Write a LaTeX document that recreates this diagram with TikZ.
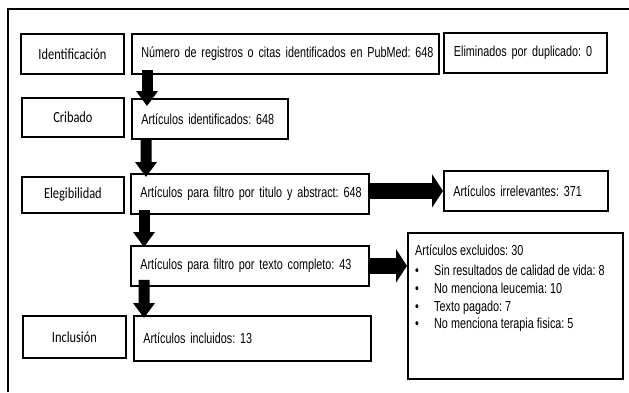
\documentclass[tikz,border=0pt]{standalone}
\usepackage{fontspec}
\setmainfont{Liberation Sans}[FakeStretch=0.745]
\newfontfamily\stagefont{Carlito}[FakeStretch=0.8]
\usetikzlibrary{arrows.meta}

\tikzset{
  boxline/.style={draw=black, line width=1.8bp, fill=white},
  stage/.style={boxline, anchor=north west, inner sep=0pt,
    font=\stagefont\fontsize{15.5bp}{18bp}\selectfont},
  info/.style 2 args={boxline, anchor=north west, inner xsep=9.5bp, inner ysep=0pt,
    text width=#1, minimum height=#2, align=left,
    font=\fontsize{14.5bp}{17bp}\selectfont},
  downarrow/.style={line width=11bp, -{Triangle[width=21bp,length=15bp]}},
  sidearrow/.style={line width=16bp, -{Triangle[width=33bp,length=11bp]}},
}

\begin{document}
\frenchspacing
\begin{tikzpicture}[x=1bp, y=-1bp]
  \useasboundingbox (0,0) rectangle (629,392);

  % outer frame (continues past the right and bottom edges)
  \draw[line width=1.3bp] (8,392) -- (8,9) -- (629,9);

  % stage labels
  \node[stage, minimum width=103bp, minimum height=40bp] (lid) at (20,33) {Identificación};
  \node[stage, minimum width=102bp, minimum height=39bp] (lcr) at (21,97) {Cribado};
  \node[stage, minimum width=102bp, minimum height=36bp] (lel) at (21,176) {Elegibilidad};
  \node[stage, minimum width=103bp, minimum height=42bp] (lin) at (22,315) {Inclusión};

  % flow boxes
  \node[info={288bp}{40bp}] (num) at (131,33) {\mbox{Número de registros o citas identificados en PubMed: 648}};
  \node[info={143bp}{40bp}, inner xsep=10bp] (dup) at (443,32) {\mbox{Eliminados por duplicado: 0}};
  \node[info={137bp}{40bp}] (idn) at (131,98) {\mbox{Artículos identificados: 648}};
  \node[info={219bp}{40bp}] (tit) at (130,173) {\mbox{Artículos para filtro por titulo y abstract: 648}};
  \node[info={145bp}{40bp}] (irr) at (443,170) {\mbox{Artículos irrelevantes: 371}};
  \node[info={219bp}{40bp}] (txt) at (130,245) {\mbox{Artículos para filtro por texto completo: 43}};
  \node[info={218bp}{45bp}] (inc) at (133,315) {\mbox{Artículos incluidos: 13}};

  % exclusion box with its list
  \node[boxline, anchor=north west, minimum width=215bp, minimum height=146bp, inner sep=0pt] (excl) at (407,232) {};
  \node[anchor=north west, inner sep=0pt, align=left,
        font=\fontsize{14.5bp}{17.7bp}\selectfont] (exclt) at ([shift={(8bp,-13bp)}]excl.north west)
    {Artículos excluidos: 30\\[2.3bp]
     \makebox[19bp][l]{•}Sin resultados de calidad de vida: 8\\
     \makebox[19bp][l]{•}No menciona leucemia: 10\\
     \makebox[19bp][l]{•}Texto pagado: 7\\
     \makebox[19bp][l]{•}No menciona terapia fisica: 5};

  % block arrows down the main flow
  \draw[downarrow] ([shift={(16bp,5bp)}]num.south west) -- ([shift={(16bp,-8bp)}]idn.north west);
  \draw[downarrow] ([shift={(15bp,0bp)}]idn.south west) -- ([shift={(16bp,-4bp)}]tit.north west);
  \draw[downarrow] ([shift={(14bp,5bp)}]tit.south west) -- ([shift={(14bp,-2bp)}]txt.north west);
  \draw[downarrow] ([shift={(14bp,7bp)}]txt.south west) -- ([shift={(11bp,-3bp)}]inc.north west);

  % block arrows to the exclusion boxes
  \draw[sidearrow] (irr.west -| tit.east) -- (irr.west);
  \draw[sidearrow] (txt.east) -- (txt.east -| excl.west);
\end{tikzpicture}
\end{document}
